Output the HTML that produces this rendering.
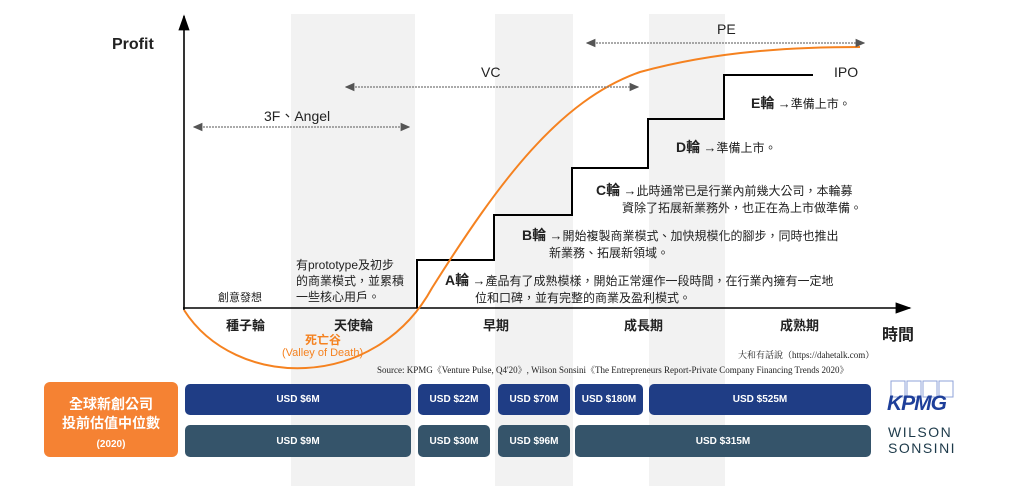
<!DOCTYPE html>
<html><head><meta charset="utf-8"><style>
body{margin:0;width:1022px;height:486px;background:#fff;position:relative;overflow:hidden;font-family:"Liberation Sans","Noto Sans CJK TC",sans-serif;color:#222}
.t{position:absolute;white-space:nowrap}
.band{position:absolute;top:14px;height:472px;background:#f2f2f2}
.bar{position:absolute;border-radius:5px;color:#fff;font-size:10px;font-weight:bold;display:flex;align-items:center;justify-content:center}
.k{background:#1f3d85}.w{background:#35546a}
b.ar{font-size:13px}
</style></head><body>
<div class="band" style="left:291px;width:124px"></div>
<div class="band" style="left:495px;width:78px"></div>
<div class="band" style="left:649px;width:76px"></div>

<svg width="1022" height="486" style="position:absolute;left:0;top:0">
<defs>
<marker id="a" markerWidth="8" markerHeight="8" refX="7" refY="4" orient="auto-start-reverse"><path d="M0,0.5 L8,4 L0,7.5z" fill="#555"/></marker>
<marker id="b" markerWidth="10" markerHeight="8" refX="9" refY="4" orient="auto"><path d="M0,0.5 L10,4 L0,7.5z" fill="#000"/></marker>
</defs>
<line x1="184" y1="310" x2="184" y2="16" stroke="#000" stroke-width="1.6" marker-end="url(#b)"/>
<line x1="183" y1="308" x2="910" y2="308" stroke="#000" stroke-width="1.6" marker-end="url(#b)"/>
<polyline points="417,308 417,260 494,260 494,215 572,215 572,168 648,168 648,119 724,119 724,75 813,75" fill="none" stroke="#000" stroke-width="2"/>
<path d="M184,310 C235,390 375,392 432,288 C500,180 560,100 640,72 C720,50 800,47 860,47" fill="none" stroke="#f58220" stroke-width="2"/>
<line x1="194" y1="127" x2="409" y2="127" stroke="#777" stroke-width="1.2" stroke-dasharray="2,1" marker-start="url(#a)" marker-end="url(#a)"/>
<line x1="346" y1="87" x2="638" y2="87" stroke="#777" stroke-width="1.2" stroke-dasharray="2,1" marker-start="url(#a)" marker-end="url(#a)"/>
<line x1="587" y1="43" x2="864" y2="43" stroke="#777" stroke-width="1.2" stroke-dasharray="2,1" marker-start="url(#a)" marker-end="url(#a)"/>
</svg>

<div class="t" style="left:112px;top:36px;font-size:16px;font-weight:bold">Profit</div>
<div class="t" style="left:264px;top:106px;font-size:14px">3F、Angel</div>
<div class="t" style="left:481px;top:64px;font-size:14px">VC</div>
<div class="t" style="left:717px;top:21px;font-size:14px">PE</div>
<div class="t" style="left:834px;top:64px;font-size:14px">IPO</div>
<div class="t" style="left:751px;top:93px;font-size:12px"><b style="font-size:14px">E輪</b> <b class="ar">→</b>準備上市。</div>
<div class="t" style="left:676px;top:137px;font-size:12px"><b style="font-size:14px">D輪</b> <b class="ar">→</b>準備上市。</div>
<div class="t" style="left:596px;top:182px;font-size:12px;line-height:17px"><b style="font-size:14px">C輪</b> <b class="ar">→</b>此時通常已是行業內前幾大公司，本輪募<br><span style="padding-left:26px">資除了拓展新業務外，也正在為上市做準備。</span></div>
<div class="t" style="left:522px;top:227px;font-size:12px;line-height:17px"><b style="font-size:14px">B輪</b> <b class="ar">→</b>開始複製商業模式、加快規模化的腳步，同時也推出<br><span style="padding-left:27px">新業務、拓展新領域。</span></div>
<div class="t" style="left:445px;top:272px;font-size:12px;line-height:17px"><b style="font-size:14px">A輪</b> <b class="ar">→</b>產品有了成熟模樣，開始正常運作一段時間，在行業內擁有一定地<br><span style="padding-left:30px">位和口碑，並有完整的商業及盈利模式。</span></div>
<div class="t" style="left:296px;top:257px;font-size:12px;line-height:16px">有prototype及初步<br>的商業模式，並累積<br>一些核心用戶。</div>
<div class="t" style="left:218px;top:289px;font-size:11px">創意發想</div>
<div class="t" style="left:226px;top:315px;font-size:13px;font-weight:bold">種子輪</div>
<div class="t" style="left:334px;top:315px;font-size:13px;font-weight:bold">天使輪</div>
<div class="t" style="left:483px;top:315px;font-size:13px;font-weight:bold">早期</div>
<div class="t" style="left:624px;top:315px;font-size:13px;font-weight:bold">成長期</div>
<div class="t" style="left:780px;top:315px;font-size:13px;font-weight:bold">成熟期</div>
<div class="t" style="left:882px;top:321px;font-size:16px;font-weight:bold">時間</div>
<div class="t" style="left:305px;top:331px;font-size:12px;color:#f58220;font-weight:bold">死亡谷</div>
<div class="t" style="left:282px;top:347px;font-size:11px;color:#f58220">(Valley of Death)</div>
<div class="t" style="left:738px;top:348px;font-size:9px;font-family:'Liberation Serif','Noto Serif CJK SC',serif">大和有話說（https://dahetalk.com）</div>
<div class="t" style="left:377px;top:363px;font-size:9px;font-family:'Liberation Serif','Noto Serif CJK SC',serif">Source: KPMG《Venture Pulse, Q4'20》, Wilson Sonsini《The Entrepreneurs Report-Private Company Financing Trends 2020》</div>

<div class="t" style="left:44px;top:382px;width:134px;height:75px;background:#f58233;border-radius:6px;color:#fff;text-align:center;font-weight:bold;font-size:14px;line-height:19px;padding-top:13px;box-sizing:border-box">全球新創公司<br>投前估值中位數<br><span style="font-size:10px">(2020)</span></div>
<div class="bar k" style="left:185px;top:384px;width:226px;height:31px">USD $6M</div>
<div class="bar k" style="left:418px;top:384px;width:72px;height:31px">USD $22M</div>
<div class="bar k" style="left:498px;top:384px;width:72px;height:31px">USD $70M</div>
<div class="bar k" style="left:575px;top:384px;width:68px;height:31px">USD $180M</div>
<div class="bar k" style="left:649px;top:384px;width:222px;height:31px">USD $525M</div>
<div class="bar w" style="left:185px;top:425px;width:226px;height:32px">USD $9M</div>
<div class="bar w" style="left:418px;top:425px;width:72px;height:32px">USD $30M</div>
<div class="bar w" style="left:498px;top:425px;width:72px;height:32px">USD $96M</div>
<div class="bar w" style="left:575px;top:425px;width:296px;height:32px">USD $315M</div>

<svg width="70" height="36" style="position:absolute;left:888px;top:380px">
<g fill="none" stroke="#8fa3d8" stroke-width="1"><rect x="3" y="1" width="14" height="16"/><rect x="19" y="1" width="14" height="16"/><rect x="35" y="1" width="14" height="16"/><rect x="51" y="1" width="14" height="16"/></g>
</svg>
<div class="t" style="left:887px;top:392px;font-size:21px;font-weight:bold;font-style:italic;color:#1e3f9a;letter-spacing:-1px">KPMG</div>
<div class="t" style="left:888px;top:424px;font-size:14px;color:#1d3a4a;letter-spacing:1.5px;line-height:16px">WILSON<br>SONSINI</div>
</body></html>
